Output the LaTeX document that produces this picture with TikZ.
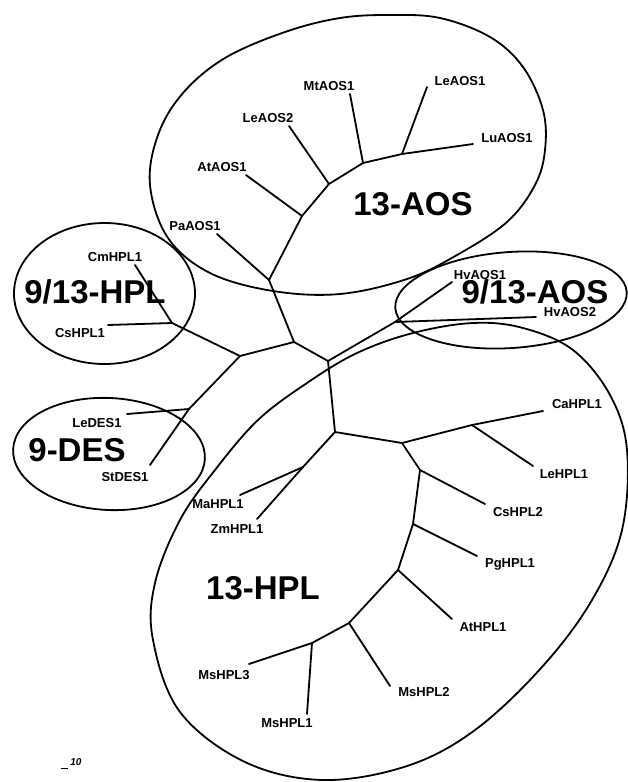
\documentclass[tikz,border=0pt]{standalone}
\usepackage{fontspec}
\setmainfont{Liberation Sans}
\begin{document}
\begin{tikzpicture}[x=1pt,y=-1pt,
  branch/.style={line width=1.8pt, line cap=round, line join=round},
  clade/.style={line width=1.8pt},
  leaf/.style={font=\fontsize{13}{13}\selectfont\bfseries, inner sep=0pt},
  group/.style={font=\fontsize{33}{33}\selectfont\bfseries, inner sep=0pt},
  scalefont/.style={font=\fontsize{10}{10}\selectfont\bfseries\itshape, inner sep=0pt}]
\useasboundingbox (0,0) rectangle (628,782);

% ---- internal nodes and tips of the tree ----
% 13-AOS branch
\coordinate (c) at (269,280);
\coordinate (b) at (302,216);
\coordinate (a) at (329,184);
\coordinate (m) at (363,163);
\coordinate (l1) at (402,154);
\coordinate (tMt) at (350,94);
\coordinate (tLe1) at (427,87);
\coordinate (tLu) at (473,144);
\coordinate (tLe2) at (289,126);
\coordinate (tAt) at (246,175);
\coordinate (tPa) at (217,234);
% backbone, 9/13-HPL and 9-DES
\coordinate (d) at (294,342);
\coordinate (e) at (240,356);
\coordinate (f) at (172,323);
\coordinate (tCm) at (135,265);
\coordinate (tCs) at (108,325);
\coordinate (g) at (189,409);
\coordinate (tLeD) at (127,414);
\coordinate (tSt) at (150,465);
% 9/13-AOS
\coordinate (h) at (328,361);
\coordinate (i) at (395,322);
\coordinate (tHv1) at (452,282);
\coordinate (tHv2) at (536,317);
% 13-HPL
\coordinate (j) at (335,432);
\coordinate (n) at (303,467);
\coordinate (tMa) at (240,495);
\coordinate (tZm) at (257,519);
\coordinate (k) at (402,443);
\coordinate (l) at (472,425);
\coordinate (tCa) at (543,411);
\coordinate (tLeH) at (533,466);
\coordinate (o) at (420,470);
\coordinate (tCs2) at (485,504);
\coordinate (p) at (413,524);
\coordinate (tPg) at (477,556);
\coordinate (q) at (398,570);
\coordinate (tAt1) at (452,619);
\coordinate (r) at (349,623);
\coordinate (tMs2) at (390,686);
\coordinate (s) at (312,643);
\coordinate (tMs3) at (249,664);
\coordinate (tMs1) at (307,714);

% ---- branches ----
\draw[branch] (tPa) -- (c) -- (b) -- (a) -- (m) -- (l1) -- (tLu);
\draw[branch] (tAt) -- (b);
\draw[branch] (tLe2) -- (a);
\draw[branch] (tMt) -- (m);
\draw[branch] (tLe1) -- (l1);
\draw[branch] (c) -- (d) -- (e) -- (f) -- (tCm);
\draw[branch] (f) -- (tCs);
\draw[branch] (e) -- (g) -- (tSt);
\draw[branch] (g) -- (tLeD);
\draw[branch] (d) -- (h) -- (i) -- (tHv1);
\draw[branch] (i) -- (tHv2);
\draw[branch] (h) -- (j) -- (n) -- (tZm);
\draw[branch] (n) -- (tMa);
\draw[branch] (j) -- (k) -- (l) -- (tCa);
\draw[branch] (l) -- (tLeH);
\draw[branch] (k) -- (o) -- (p) -- (q) -- (r) -- (s) -- (tMs3);
\draw[branch] (s) -- (tMs1);
\draw[branch] (r) -- (tMs2);
\draw[branch] (q) -- (tAt1);
\draw[branch] (p) -- (tPg);
\draw[branch] (o) -- (tCs2);

% ---- clade outlines ----
\draw[clade] plot[smooth cycle, tension=0.6] coordinates {
  (150,185) (158,135) (183,93) (225,58) (285,32) (340,18) (390,15) (440,18)
  (490,37) (523,67) (543,110) (545,150) (535,185) (507,222) (457,255)
  (407,279) (340,294) (273,291) (210,273) (168,238)};
\draw[clade] plot[smooth cycle, tension=0.6] coordinates {
  (357,353) (413,333) (473,323) (523,328) (573,350) (610,395) (627,450)
  (622,530) (592,600) (542,667) (475,730) (407,766) (323,780) (245,762)
  (180,712) (153,640) (155,583) (180,520) (215,470) (258,420) (307,383)};
\draw[clade] (104.5,293.5) ellipse [x radius=90.5, y radius=70.5];
\draw[clade, rotate around={-3:(109,454)}] (109,454) ellipse [x radius=96, y radius=56];
\draw[clade, rotate around={4:(511,300)}] (511,300) ellipse [x radius=116, y radius=48];

% ---- tip labels ----
\node[leaf] (nMt) at (329,86) {MtAOS1};
\node[leaf] (nLe1) at (460,81) {LeAOS1};
\node[leaf] (nLu) at (507,138) {LuAOS1};
\node[leaf] (nLe2) at (268,118) {LeAOS2};
\node[leaf] (nAt) at (222,167) {AtAOS1};
\node[leaf] (nPa) at (195,226) {PaAOS1};
\node[leaf] (nCm) at (115,257) {CmHPL1};
\node[leaf] (nCs) at (80,333) {CsHPL1};
\node[leaf] (nLeD) at (97,423) {LeDES1};
\node[leaf] (nSt) at (125,477) {StDES1};
\node[leaf] (nHv1) at (480,275) {HvAOS1};
\node[leaf] (nHv2) at (570,312) {HvAOS2};
\node[leaf] (nCa) at (577,404) {CaHPL1};
\node[leaf] (nLeH) at (564,474) {LeHPL1};
\node[leaf] (nCs2) at (518,512) {CsHPL2};
\node[leaf] (nPg) at (510,564) {PgHPL1};
\node[leaf] (nAt1) at (483,627) {AtHPL1};
\node[leaf] (nMs2) at (424,692) {MsHPL2};
\node[leaf] (nMs1) at (287,723) {MsHPL1};
\node[leaf] (nMs3) at (224,675) {MsHPL3};
\node[leaf] (nMa) at (218,504) {MaHPL1};
\node[leaf] (nZm) at (237,529) {ZmHPL1};

% ---- clade names ----
\node[group] (g13aos) at (413,204) {13-AOS};
\node[group] (g913hpl) at (95,292) {9/13-HPL};
\node[group] (g9des) at (77,450) {9-DES};
\node[group] (g913aos) at (535,292) {9/13-AOS};
\node[group] (g13hpl) at (263,588) {13-HPL};

% ---- scale bar ----
\coordinate (sb1) at (61,768);
\coordinate (sb2) at (68,768);
\draw[line width=1pt] (sb1) -- (sb2);
\node[scalefont] (sbl) at (76,762) {10};
\end{tikzpicture}
\end{document}
